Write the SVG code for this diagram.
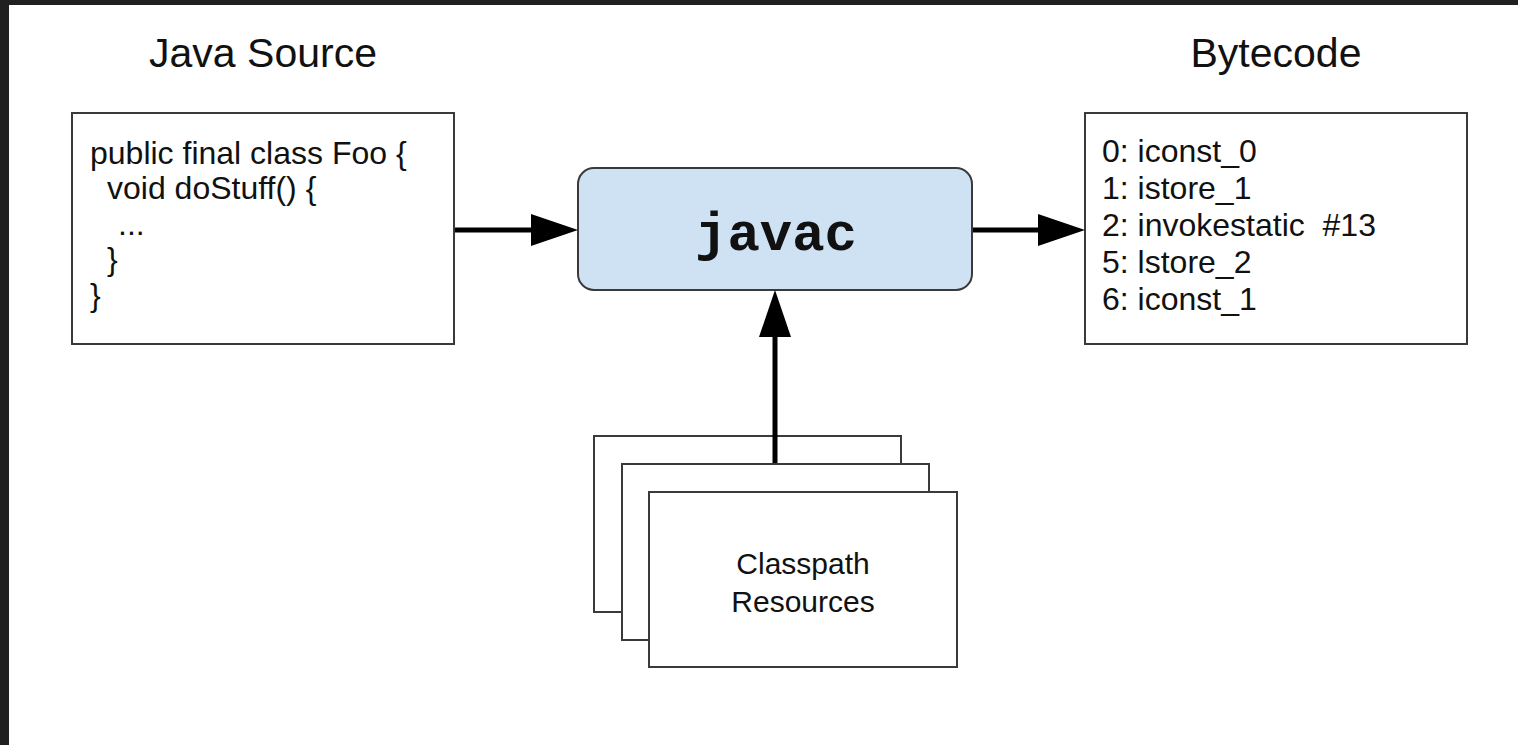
<svg xmlns="http://www.w3.org/2000/svg" width="1518" height="745" viewBox="0 0 1518 745">
<style>
.box{fill:#ffffff;stroke:#3a3a3a;stroke-width:2}
.t{font-family:"Liberation Sans",Arial,sans-serif;fill:#111}
.title{font-size:41px}
.code{font-size:32px}
.conn{stroke:#000;stroke-width:5;fill:none}
.head{fill:#000}
</style>
<rect x="0" y="0" width="1518" height="745" fill="#ffffff"/>
<rect x="0" y="0" width="1518" height="5" fill="#202020"/>
<rect x="0" y="0" width="9" height="745" fill="#202020"/>
<g id="title-source"><text class="t title" x="263" y="67" text-anchor="middle">Java Source</text></g>
<g id="title-bytecode"><text class="t title" x="1276" y="67" text-anchor="middle">Bytecode</text></g>
<g id="java-source">
<rect class="box" x="72" y="113" width="382" height="231"/>
<text class="t code" x="90" y="164">public final class Foo {</text>
<text class="t code" x="107" y="199">void doStuff() {</text>
<text class="t code" x="118" y="235">...</text>
<text class="t code" x="107" y="270">}</text>
<text class="t code" x="90" y="306">}</text>
</g>
<g id="bytecode">
<rect class="box" x="1085" y="113" width="382" height="231"/>
<text class="t code" x="1102" y="162">0: iconst_0</text>
<text class="t code" x="1102" y="199">1: istore_1</text>
<text class="t code" x="1102" y="236" xml:space="preserve">2: invokestatic  #13</text>
<text class="t code" x="1102" y="273">5: lstore_2</text>
<text class="t code" x="1102" y="310">6: iconst_1</text>
</g>
<g id="javac">
<rect x="578" y="168" width="394" height="122" rx="16" ry="16" fill="#cfe2f3" stroke="#3a3a3a" stroke-width="2"/>
<text x="776" y="250" text-anchor="middle" font-family="'Liberation Mono','Courier New',monospace" font-weight="bold" font-size="54" fill="#111">javac</text>
</g>
<g id="classpath">
<rect class="box" x="594" y="436" width="307" height="176"/>
<rect class="box" x="622" y="464" width="307" height="176"/>
<rect class="box" x="649" y="492" width="308" height="175"/>
<text class="t" x="803" y="574" text-anchor="middle" font-size="30">Classpath</text>
<text class="t" x="803" y="612" text-anchor="middle" font-size="30">Resources</text>
</g>
<g id="connectors">
<line class="conn" x1="455" y1="230" x2="535" y2="230"/>
<polygon class="head" points="578,230 531,214 531,246"/>
<line class="conn" x1="973" y1="230" x2="1042" y2="230"/>
<polygon class="head" points="1085,230 1038,214 1038,246"/>
<line class="conn" x1="775" y1="463" x2="775" y2="333"/>
<polygon class="head" points="775,290 759,337 791,337"/>
</g>
</svg>
